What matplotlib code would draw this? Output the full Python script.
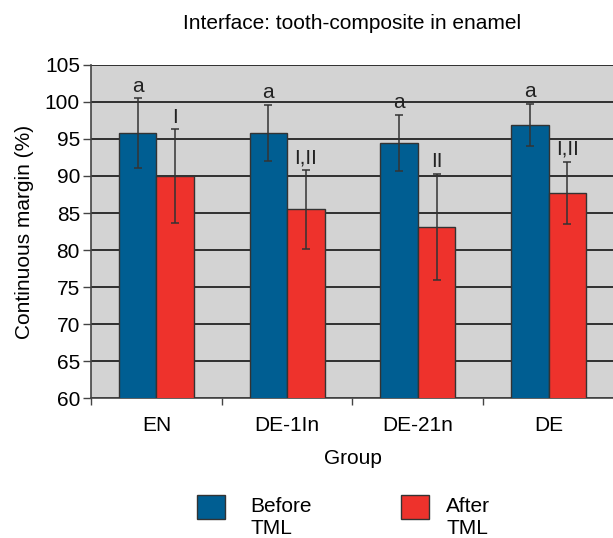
import matplotlib
matplotlib.use("Agg")
import matplotlib.pyplot as plt
import numpy as np
from matplotlib.patches import Patch, Rectangle
from matplotlib.legend_handler import HandlerPatch

plt.rcParams["font.family"] = ["Liberation Sans", "DejaVu Sans"]

# data
groups = ["EN", "DE-1In", "DE-21n", "DE"]
before = [95.8, 95.8, 94.5, 96.9]
before_err = [4.7, 3.8, 3.8, 2.85]
after = [90.0, 85.5, 83.1, 87.7]
after_err = [6.3, 5.3, 7.2, 4.25]
before_labels = ["a", "a", "a", "a"]
after_labels = ["I", "I,II", "II", "I,II"]
series_names = ["Before\nTML", "After\nTML"]

BLUE = "#005e92"
RED = "#ee322c"
EDGE = "#333333"
FS = 15


def raised_square(legend, orig_handle, xdescent, ydescent, width, height, fontsize):
    # legend square sits level with the first text line, not the middle
    return Rectangle((-xdescent, -ydescent + 8), width, height)


fig = plt.figure(figsize=(6.13, 5.38), dpi=100)
ax = fig.add_axes([0.1485, 0.2602, 0.853, 0.619])
ax.set_facecolor("#d3d3d3")

x = np.arange(len(groups))
w = 0.287
ax.bar(x - w / 2, before, w, color=BLUE, edgecolor=EDGE, linewidth=1, zorder=3)
ax.bar(x + w / 2, after, w, color=RED, edgecolor=EDGE, linewidth=1, zorder=3)
ax.errorbar(x - w / 2, before, yerr=before_err, fmt="none", ecolor="#333333",
            elinewidth=1.1, capsize=3, capthick=1.1, zorder=4)
ax.errorbar(x + w / 2, after, yerr=after_err, fmt="none", ecolor="#333333",
            elinewidth=1.1, capsize=3, capthick=1.1, zorder=4)

for xi, v, e, lab in zip(x - w / 2, before, before_err, before_labels):
    ax.annotate(lab, (xi, v + e), xytext=(0, 2), textcoords="offset points",
                ha="center", va="bottom", fontsize=FS, color="#222222", zorder=5)
for xi, v, e, lab in zip(x + w / 2, after, after_err, after_labels):
    ax.annotate(lab, (xi, v + e), xytext=(0, 2), textcoords="offset points",
                ha="center", va="bottom", fontsize=FS, color="#222222", zorder=5)

ax.set_ylim(60, 105)
ax.set_xlim(-0.5, len(groups) - 0.5)
ax.set_yticks(np.arange(60, 106, 5))
ax.yaxis.grid(True, color="#222222", linewidth=1.3, zorder=0)
ax.set_axisbelow(True)

# group boundaries carry the tick marks, names sit between them
ax.set_xticks(np.arange(len(groups) + 1) - 0.5)
ax.set_xticklabels([])
ax.set_xticks(x, minor=True)
ax.set_xticklabels(groups, minor=True, fontsize=FS)
ax.tick_params(axis="x", which="minor", length=0, pad=13)
ax.tick_params(axis="x", which="major", length=5, width=1, color="#444444")
ax.tick_params(axis="y", length=6, width=1, color="#444444", labelsize=FS, pad=2)

for s in ["top", "right"]:
    ax.spines[s].set_visible(False)
for s in ["left", "bottom"]:
    ax.spines[s].set_color("#444444")
    ax.spines[s].set_linewidth(1.2)

ax.set_ylabel("Continuous margin (%)", fontsize=FS, labelpad=8)
ax.set_xlabel("Group", fontsize=FS, labelpad=10)
ax.set_title("Interface: tooth-composite in enamel", fontsize=FS, pad=26)

# one legend per entry so each text column can sit where the original has it
for color, name, left, gap in [(BLUE, series_names[0], 197, 1.2),
                               (RED, series_names[1], 401, 0.82)]:
    fig.legend([Patch(facecolor=color, edgecolor=EDGE)], [name], loc="upper left",
               bbox_to_anchor=(left / 613, 1 - 497 / 538), frameon=False,
               fontsize=FS, borderpad=0, borderaxespad=0,
               handlelength=1.35, handleheight=1.35, handletextpad=gap,
               handler_map={Patch: HandlerPatch(patch_func=raised_square)})

fig.savefig("out.png", dpi=100)
